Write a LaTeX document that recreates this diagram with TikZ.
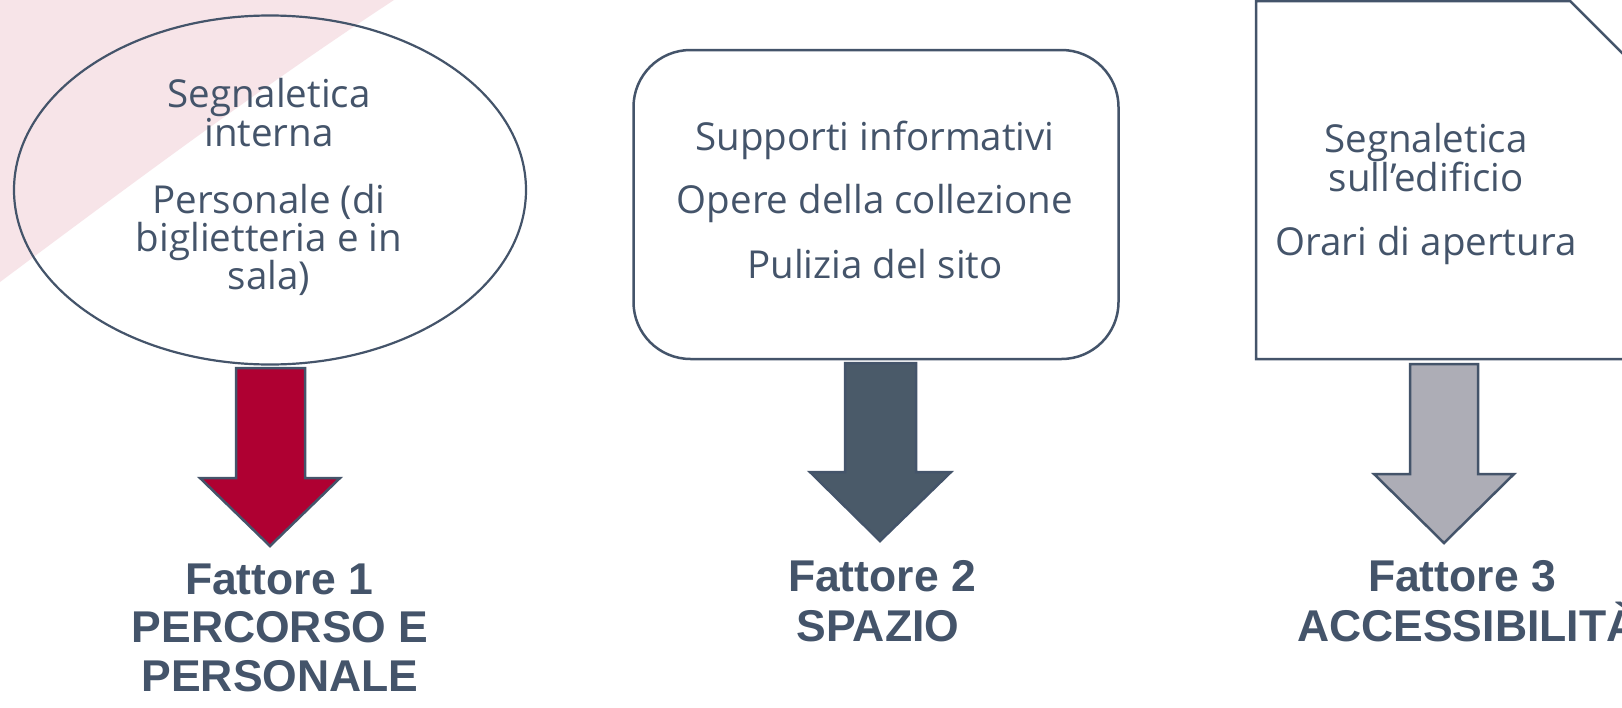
\documentclass[tikz,border=0pt]{standalone}
\usepackage{fontspec}
\usetikzlibrary{shapes.geometric}
\setmainfont{Open Sans}
\newfontfamily\labfont{Liberation Sans}
\definecolor{slate}{HTML}{44546A}
\definecolor{crimson}{HTML}{AF0032}
\definecolor{darkslate}{HTML}{4A5A69}
\definecolor{lightgrey}{HTML}{ADADB6}
\definecolor{pinkbg}{HTML}{F7E4E8}
\tikzset{
  body/.style={font=\fontsize{38.5}{40}\selectfont, text=slate, anchor=base, inner sep=0pt},
  lab/.style={font=\labfont\bfseries\fontsize{44.5}{50}\selectfont, text=slate, anchor=base, inner sep=0pt},
  outline/.style={draw=slate, line width=2.5pt},
  arrowshape/.style={draw=slate, line width=2.5pt, line join=miter}
}
\begin{document}
\begin{tikzpicture}[x=1pt,y=-1pt]
\useasboundingbox (0,0) rectangle (1622,707);
\clip (0,0) rectangle (1622,707);
\fill[white] (0,0) rectangle (1622,707);
% pink background corner
\fill[pinkbg] (0,0) -- (394,0) .. controls (260,88) and (130,185) .. (0,282) -- cycle;

% shapes
\node[outline, line width=2.2pt, ellipse, minimum width=512pt, minimum height=349pt, inner sep=0pt] (e1) at (270,190) {};
\node[outline, rectangle, rounded corners=57pt, minimum width=485pt, minimum height=309pt, inner sep=0pt] (b2) at (876,204.5) {};
\draw[outline, line join=miter] (1256,1) -- (1570,1) -- (1720,151) -- (1720,359) -- (1256,359) -- cycle;

% texts box 1
\node[body] (t1a) at (269,107) {Segnaletica};
\node[body] (t1b) at (269,146) {interna};
\node[body] (t1c) at (269,213) {Personale (di};
\node[body] (t1d) at (269,251) {biglietteria e in};
\node[body] (t1e) at (269,289) {sala)};
% texts box 2
\node[body] (t2a) at (875,150) {Supporti informativi};
\node[body] (t2b) at (875,213) {Opere della collezione};
\node[body] (t2c) at (875,278) {Pulizia del sito};
% texts box 3
\node[body] (t3a) at (1426,152) {Segnaletica};
\node[body] (t3b) at (1426,191) {sull’edificio};
\node[body] (t3c) at (1426,255) {Orari di apertura};

% arrows
\draw[arrowshape, fill=crimson] (236,368) -- (305,368) -- (305,478) -- (340,478) -- (270,546) -- (200,478) -- (236,478) -- cycle;
\draw[arrowshape, fill=darkslate] (845,363) -- (916,363) -- (916,472) -- (951,472) -- (880,541) -- (810,472) -- (845,472) -- cycle;
\draw[arrowshape, fill=lightgrey] (1410,364) -- (1478,364) -- (1478,474) -- (1514,474) -- (1444,543) -- (1374,474) -- (1410,474) -- cycle;

% labels
\node[lab] (l1a) at (279,594) {Fattore 1};
\node[lab] (l1b) at (280,642) {PERCORSO E};
\node[lab] (l1c) at (280,691) {PERSONALE};
\node[lab] (l2a) at (882,591) {Fattore 2};
\node[lab] (l2b) at (878,641) {SPAZIO};
\node[lab] (l3a) at (1462,591) {Fattore 3};
\node[lab, anchor=base west] (l3b) at (1297,641) {ACCESSIBILITÀ};
\end{tikzpicture}
\end{document}
